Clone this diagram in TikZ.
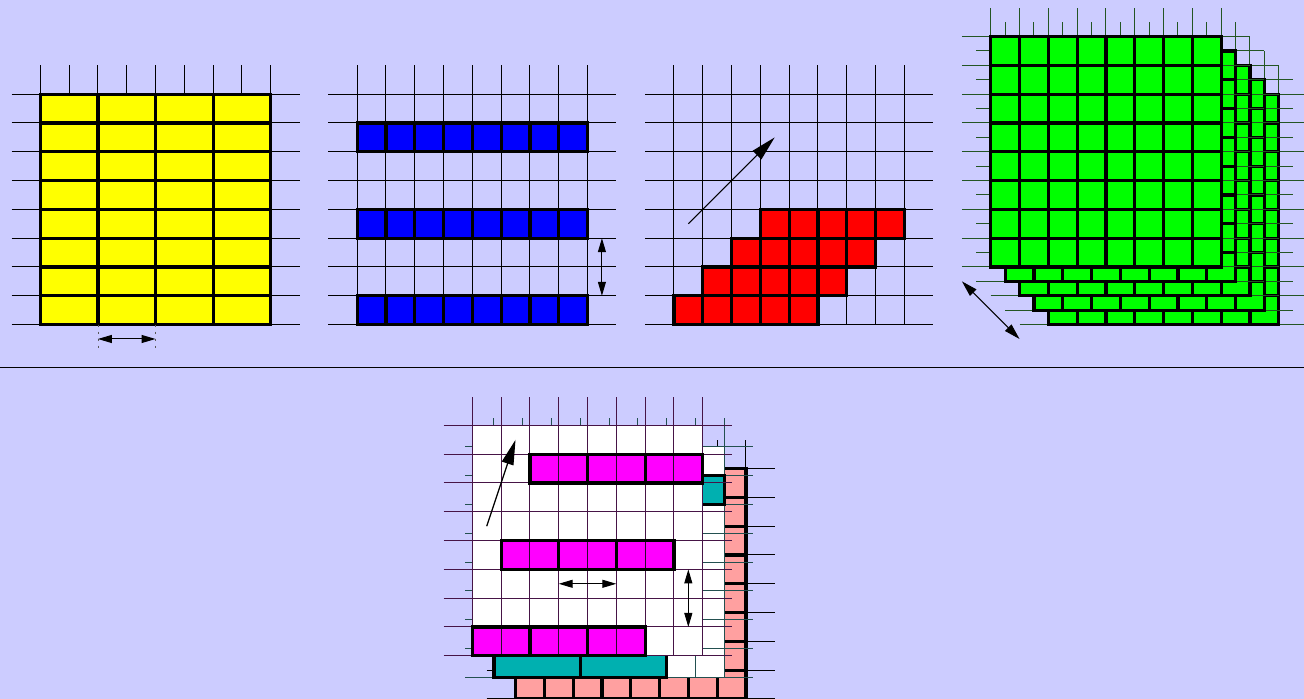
\documentclass[tikz,border=0pt]{standalone}
\usetikzlibrary{arrows.meta}
\definecolor{bgc}{RGB}{204,204,255}
\definecolor{purpleline}{RGB}{70,20,70}
\definecolor{tealline}{RGB}{35,80,80}
\definecolor{greenline}{RGB}{35,85,35}
\definecolor{tealfill}{RGB}{0,176,176}
\definecolor{pinkfill}{RGB}{255,160,160}
\definecolor{yellowfill}{RGB}{255,255,0}
\definecolor{bluefill}{RGB}{0,0,255}
\definecolor{redfill}{RGB}{255,0,0}
\definecolor{greenfill}{RGB}{0,255,0}
\definecolor{magentafill}{RGB}{255,0,255}
\tikzset{
  thinline/.style={line width=0.5pt},
  cellbox/.style={line width=1.6pt, draw=black},
  dblarrow/.style={line width=0.5pt, {Triangle[length=7pt,width=4pt]}-{Triangle[length=7pt,width=4pt]}},
  bigarrow/.style={line width=0.6pt, -{Triangle[length=12.5pt,width=6pt]}},
  guide/.style={line width=0.4pt, gray!70!black, dash pattern=on 1pt off 2.5pt},
}
\newcommand\mpgrid[1]{%
  \foreach \i in {0,...,8}{%
    \draw[thinline,#1] (\i,0) -- (\i,9);
    \draw[thinline,#1] (-1,\i) -- (9,\i);
  }%
}
\begin{document}
\begin{tikzpicture}[x=14.4pt,y=14.4pt]
\clip (0,0) rectangle (45.2778,24.2708);
\fill[bgc] (0,0) rectangle (45.2778,24.2708);

% Panel 1: yellow
\begin{scope}[shift={(1.4,13)}]
  \mpgrid{black}
  \foreach \i in {0,...,3}{\foreach \j in {0,...,7}{
    \draw[cellbox,fill=yellowfill] (2*\i,\j) rectangle ++(2,1);}}
  \draw[guide] (2,0) -- (2,-0.9);
  \draw[guide] (4,0) -- (4,-0.9);
  \coordinate (a1s) at (2,-0.5);
  \coordinate (a1e) at (4,-0.5);
  \draw[dblarrow] (a1s) -- (a1e);
\end{scope}

% Panel 2: blue
\begin{scope}[shift={(12.4,13)}]
  \mpgrid{black}
  \foreach \j in {0,3,6}{\foreach \i in {0,...,7}{
    \draw[cellbox,fill=bluefill] (\i,\j) rectangle ++(1,1);}}
  \coordinate (a2s) at (8.5,1);
  \coordinate (a2e) at (8.5,3);
  \draw[dblarrow] (a2s) -- (a2e);
\end{scope}

% Panel 3: red
\begin{scope}[shift={(23.4,13)}]
  \mpgrid{black}
  \foreach \j in {0,...,3}{\foreach \k in {0,...,4}{
    \draw[cellbox,fill=redfill] (\j+\k,\j) rectangle ++(1,1);}}
  \coordinate (a3s) at (0.5,3.5);
  \coordinate (a3e) at (3.5,6.5);
  \draw[bigarrow] (a3s) -- (a3e);
\end{scope}

% Panel 4: green stack
\begin{scope}[shift={(34.4,13)}]
  \foreach \k in {4,3,2,1,0}{
    \begin{scope}[shift={(0.5*\k,2-0.5*\k)}]
      \mpgrid{greenline}
      \foreach \i in {0,...,7}{\foreach \j in {0,...,7}{
        \draw[cellbox,fill=greenfill] (\i,\j) rectangle ++(1,1);}}
    \end{scope}
  }
  \coordinate (a4s) at (-1,1.5);
  \coordinate (a4e) at (1,-0.5);
  \draw[line width=0.5pt,{Triangle[length=8pt,width=4.5pt]}-{Triangle[length=8pt,width=4.5pt]}] (a4s) -- (a4e);
\end{scope}

% separator
\coordinate (sepL) at (0,11.5);
\coordinate (sepR) at (45.3,11.5);
\draw[line width=0.5pt] (sepL) -- (sepR);

% Bottom panel
\begin{scope}[shift={(16.4,1.5)}]
  % pink layer
  \begin{scope}[shift={(1.5,-1.5)}]
    \mpgrid{black}
    \foreach \i in {0,...,7}{\foreach \j in {0,...,7}{
      \draw[cellbox,fill=pinkfill] (\i,\j) rectangle ++(1,1);}}
  \end{scope}
  % teal layer
  \begin{scope}[shift={(0.75,-0.75)}]
    \mpgrid{tealline}
    \foreach \i in {0,...,7}{\foreach \j in {0,...,7}{
      \draw[thinline,tealline,fill=white] (\i,\j) rectangle ++(1,1);}}
    \draw[cellbox,fill=tealfill] (0,0) rectangle (3,1);
    \draw[cellbox,fill=tealfill] (3,0) rectangle (6,1);
    \draw[cellbox,fill=tealfill] (5,6) rectangle (8,7);
  \end{scope}
  % main layer
  \mpgrid{purpleline}
  \foreach \i in {0,...,7}{\foreach \j in {0,...,7}{
    \draw[thinline,purpleline,fill=white] (\i,\j) rectangle ++(1,1);}}
  \foreach \j/\s in {0/0,3/1,6/2}{
    \foreach \i in {0,...,5}{
      \draw[thinline,purpleline!60!black,fill=magentafill] (\s+\i,\j) rectangle ++(1,1);}
    \foreach \b in {0,2,4}{
      \draw[cellbox] (\s+\b,\j) rectangle ++(2,1);}
  }
  \coordinate (b1s) at (0.5,4.5);
  \coordinate (b1e) at (1.5,7.5);
  \draw[bigarrow] (b1s) -- (b1e);
  \coordinate (b2s) at (3,2.5);
  \coordinate (b2e) at (5,2.5);
  \draw[dblarrow] (b2s) -- (b2e);
  \coordinate (b3s) at (7.5,3);
  \coordinate (b3e) at (7.5,1);
  \draw[dblarrow] (b3s) -- (b3e);
\end{scope}
\end{tikzpicture}
\end{document}
